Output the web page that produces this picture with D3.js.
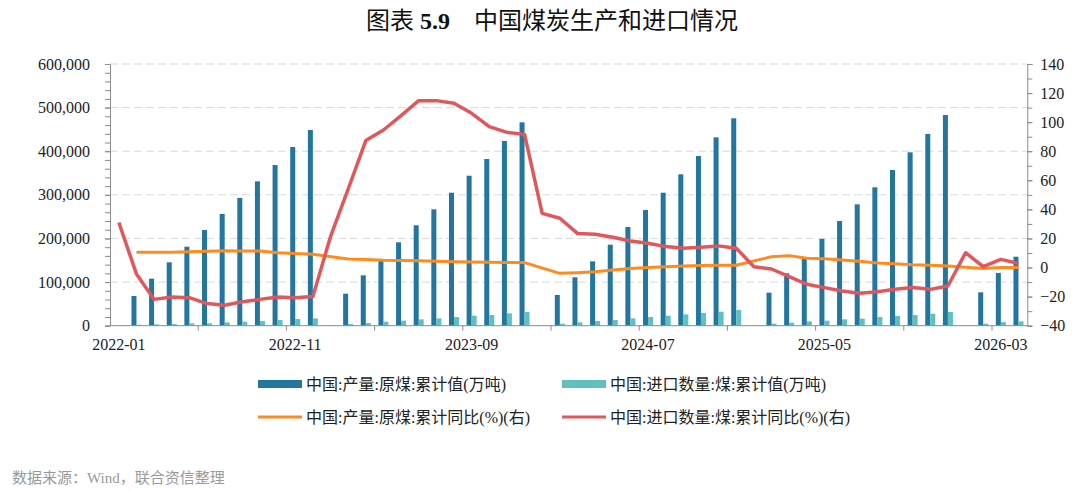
<!DOCTYPE html>
<html><head><meta charset="utf-8">
<script src="https://cdn.jsdelivr.net/npm/d3@7"></script>
<style>
html,body{margin:0;padding:0;background:#fff;}
svg{display:block;}
</style>
</head><body>
<svg id="chart" width="1080" height="491"></svg>
<script>
const months = [
 "2022-01","2022-02","2022-03","2022-04","2022-05","2022-06","2022-07","2022-08","2022-09","2022-10","2022-11","2022-12",
 "2023-01","2023-02","2023-03","2023-04","2023-05","2023-06","2023-07","2023-08","2023-09","2023-10","2023-11","2023-12",
 "2024-01","2024-02","2024-03","2024-04","2024-05","2024-06","2024-07","2024-08","2024-09","2024-10","2024-11","2024-12",
 "2025-01","2025-02","2025-03","2025-04","2025-05","2025-06","2025-07","2025-08","2025-09","2025-10","2025-11","2025-12",
 "2026-01","2026-02","2026-03","2026-04"];
const tickLabels = ["2022-01","2022-11","2023-09","2024-07","2025-05","2026-03"];

// 中国:产量:原煤:累计值(万吨)
const prodCum = [
 null,68100,107800,145300,181100,219400,256100,292800,331000,368400,409700,448700,
 null,73400,115500,149000,191200,230200,266800,304900,343900,382200,423500,466300,
 null,70400,111000,147600,185700,226300,265300,304900,347100,389100,431900,475500,
 null,75700,120100,154500,198800,240000,278300,317300,357000,397500,439500,483100,
 null,76500,121000,158200];
// 中国:进口数量:煤:累计值(万吨)
const impCum = [
 600,2300,3000,3800,5300,5300,7600,9200,10700,13000,15300,16800,
 600,3800,6100,9200,11500,14500,16800,19900,22900,24500,28300,31300,
 600,4600,7600,10700,13000,16800,19900,22900,26000,29100,32100,35900,
 600,4600,6900,9900,11500,14500,16100,19900,22200,24500,27500,31300,
 600,4600,8400,9900];
// 中国:产量:原煤:累计同比(%)
const prodYoy = [
 null,10.5,10.5,10.6,10.8,11.2,11.6,11.4,11.4,10.2,9.6,9.1,
 null,5.9,5.5,5.0,4.8,4.6,4.4,4.0,3.8,3.6,3.4,3.4,
 null,-4.0,-3.5,-2.9,-1.7,-0.6,0.1,0.6,1.0,1.4,1.5,1.6,
 null,7.5,8.2,6.4,6.0,5.2,4.3,3.2,2.6,1.9,1.5,1.0,
 null,-0.6,0.1,0.1];
// 中国:进口数量:煤:累计同比(%)
const impYoy = [
 31,-4.4,-21.9,-20.3,-20.7,-24.8,-25.9,-23.5,-21.9,-20.3,-20.7,-20.0,
 21.2,54,87.3,94.6,104.5,114.8,114.8,113,106.1,96.9,93,91.6,
 37.3,33.9,23.5,22.9,20.8,18.3,16.7,14.4,13.3,14,14.9,13.3,
 0.6,-1,-6.3,-11.5,-13.8,-16.1,-17.7,-16.6,-15,-13.8,-15,-12.7,
 10.2,0.6,5.6,2.9];

const seriesNames = ["中国:产量:原煤:累计值(万吨)","中国:进口数量:煤:累计值(万吨)","中国:产量:原煤:累计同比(%)(右)","中国:进口数量:煤:累计同比(%)(右)"];
const colors = {blue:"#23779f", teal:"#5fc0bf", orange:"#ff8b1f", red:"#e0585b"};

const svg = d3.select("#chart");
const L = 110, R = 1027.3, T = 64, B = 325.7;
const FONT = "'Liberation Serif','Times New Roman','Noto Sans CJK SC',serif";

const x = d3.scaleBand().domain(months).range([L, R]).padding(0);
const yL = d3.scaleLinear().domain([0, 600000]).range([B, T]);
const yR = d3.scaleLinear().domain([-40, 140]).range([B, T]);
const bw = x.bandwidth();
const barW = bw * 0.284;
const cx = m => x(m) + bw / 2;

// title
const title = svg.append("text").attr("x", 552).attr("y", 29).attr("text-anchor", "middle")
  .attr("font-family", FONT).attr("font-size", 24).attr("fill", "#111");
title.append("tspan").text("图表 ");
title.append("tspan").attr("font-weight", "bold").attr("font-family","'Liberation Serif',serif").text("5.9");
title.append("tspan").attr("dx", 24).text("中国煤炭生产和进口情况");

// grid
svg.append("g").selectAll("line").data(d3.range(100000, 600001, 100000)).join("line")
  .attr("x1", L).attr("x2", R).attr("y1", d => yL(d)).attr("y2", d => yL(d))
  .attr("stroke", "#d9d9d9").attr("stroke-width", 1).attr("stroke-dasharray", "8,4");

// bars
svg.append("g").selectAll("rect").data(months.map((m, i) => ({m, v: prodCum[i]})).filter(d => d.v != null)).join("rect")
  .attr("x", d => cx(d.m) - barW).attr("width", barW)
  .attr("y", d => yL(d.v)).attr("height", d => B - yL(d.v)).attr("fill", colors.blue);
svg.append("g").selectAll("rect").data(months.map((m, i) => ({m, v: impCum[i]})).filter(d => d.v != null)).join("rect")
  .attr("x", d => cx(d.m)).attr("width", barW)
  .attr("y", d => yL(d.v)).attr("height", d => B - yL(d.v)).attr("fill", colors.teal);

// lines
const prodPts = months.map((m, i) => ({m, v: prodYoy[i]})).filter(d => d.v != null);
const impPts = months.map((m, i) => ({m, v: impYoy[i]})).filter(d => d.v != null);
const line = d3.line().x(d => cx(d.m)).y(d => yR(d.v));
svg.append("path").datum(prodPts).attr("d", line).attr("fill", "none")
  .attr("stroke", colors.orange).attr("stroke-width", 3).attr("stroke-linejoin", "round");
svg.append("path").datum(impPts).attr("d", line).attr("fill", "none")
  .attr("stroke", colors.red).attr("stroke-width", 3.5).attr("stroke-linejoin", "round");

// axes
const axisColor = "#8c8c8c";
function styleAxis(g) {
  g.selectAll(".domain").attr("stroke", axisColor);
  g.selectAll(".tick line").attr("stroke", axisColor);
  g.selectAll(".tick text").attr("font-family", FONT).attr("font-size", 16).attr("fill", "#222");
}
// left minor ticks
const gLm = svg.append("g").attr("transform", `translate(${L},0)`)
  .call(d3.axisLeft(yL).tickValues(d3.range(0, 600001, 20000)).tickSize(5).tickFormat(""));
styleAxis(gLm);
const gL = svg.append("g").attr("transform", `translate(${L},0)`)
  .call(d3.axisLeft(yL).tickValues(d3.range(0, 600001, 100000)).tickSize(5).tickPadding(15).tickFormat(d3.format(",")));
styleAxis(gL);
gL.select(".domain").remove();

const gRm = svg.append("g").attr("transform", `translate(${R},0)`)
  .call(d3.axisRight(yR).tickValues(d3.range(-40, 141, 10)).tickSize(5).tickFormat(""));
styleAxis(gRm);
const gR = svg.append("g").attr("transform", `translate(${R},0)`)
  .call(d3.axisRight(yR).tickValues(d3.range(-40, 141, 20)).tickSize(5).tickPadding(8));
styleAxis(gR);
gR.select(".domain").remove();

// bottom axis
const gB = svg.append("g").attr("transform", `translate(0,${B})`);
gB.append("line").attr("x1", L).attr("x2", R).attr("stroke", axisColor);
gB.selectAll("line.t").data(months.filter((m, i) => i % 5 === 0 && i > 0)).join("line").attr("class", "t")
  .attr("x1", d => x(d)).attr("x2", d => x(d)).attr("y1", 0).attr("y2", 5).attr("stroke", axisColor);
gB.selectAll("text").data(tickLabels).join("text")
  .attr("x", d => cx(d)).attr("y", 24).attr("text-anchor", "middle")
  .attr("font-family", FONT).attr("font-size", 16).attr("fill", "#222").text(d => d);

// legend
const legend = [
  {name: seriesNames[0], type: "rect", color: colors.blue, x: 258, y: 384},
  {name: seriesNames[1], type: "rect", color: colors.teal, x: 562, y: 384},
  {name: seriesNames[2], type: "line", color: colors.orange, x: 258, y: 417},
  {name: seriesNames[3], type: "line", color: colors.red, x: 562, y: 417}];
const lg = svg.append("g").selectAll("g").data(legend).join("g").attr("transform", d => `translate(${d.x},${d.y})`);
lg.filter(d => d.type === "rect").append("rect").attr("x", 0).attr("y", -4).attr("width", 44).attr("height", 8).attr("fill", d => d.color);
lg.filter(d => d.type === "line").append("line").attr("x1", 0).attr("x2", 44).attr("stroke", d => d.color).attr("stroke-width", 3);
lg.append("text").attr("x", 48).attr("y", 5.5).attr("font-family", FONT).attr("font-size", 16).attr("fill", "#222").text(d => d.name);

// source
svg.append("text").attr("x", 12).attr("y", 483).attr("font-family", FONT).attr("font-size", 15).attr("fill", "#999")
  .text("数据来源：Wind，联合资信整理");
</script>
</body></html>
